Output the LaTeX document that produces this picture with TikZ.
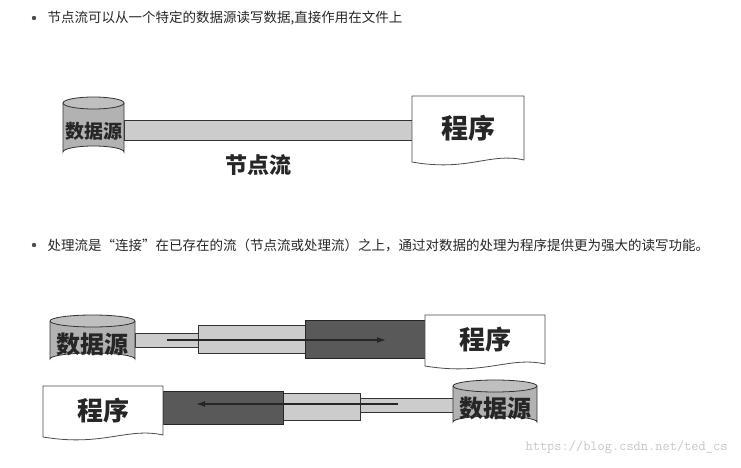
\documentclass[tikz,border=0pt]{standalone}
\usepackage{fontspec}
\usetikzlibrary{arrows.meta}
\newfontfamily\cjk{Noto Sans CJK SC}
\begin{document}
\begin{tikzpicture}[x=1pt,y=-1pt,
  lite/.style={fill=gray!40,draw=black!80,line width=0.8pt},
  dark/.style={fill=black!65,draw=black!85,line width=0.8pt},
  btxt/.style={font=\cjk\bfseries\fontsize{#1}{#1}\selectfont,text=black!85,inner sep=0pt},
  para/.style={font=\cjk\fontsize{13.5}{14}\selectfont,text=black!85,anchor=west},
  arr/.style={-{Latex[length=9pt,width=6pt]},line width=1.3pt,black!85}]
\useasboundingbox (0,0) rectangle (741,468);
\def\cyl#1#2#3#4#5#6{% name, x1,x2,ytop,ybot,size
  \path[fill=gray!60,draw=black!80,line width=0.8pt]
    (#2,#4) -- (#2,#5) arc[start angle=180,end angle=360,x radius={(#3-#2)/2},y radius=6] -- (#3,#4);
  \path[fill=gray!50,draw=black!80,line width=0.8pt] ({(#2+#3)/2},#4) ellipse [x radius={(#3-#2)/2},y radius=6];
  \node[btxt=#6] (#1) at ({(#2+#3)/2},{(#4+#5)/2+4}) {数据源};}
\def\doc#1#2#3#4#5#6{%
  \path[fill=white,draw=black!70,line width=0.8pt]
    (#2,#4) -- (#3,#4) -- (#3,{#5-6}) .. controls ({#3-(#3-#2)*0.3},{#5-14}) and ({#2+(#3-#2)*0.5},{#5+6}) .. (#2,{#5-4}) -- cycle;
  \node[btxt=#6] (#1) at ({(#2+#3)/2},{(#4+#5)/2-3}) {程序};}

\fill[black!70] (34,18) circle (2.2);
\node[para] (t1) at (44,18) {节点流可以从一个特定的数据源读写数据,直接作用在文件上};
\fill[black!70] (34,245) circle (2.2);
\node[para] (t2) at (44,245) {处理流是“连接”在已存在的流（节点流或处理流）之上，通过对数据的处理为程序提供更为强大的读写功能。};

% top
\draw[lite] (124,120) rectangle (412,140);
\cyl{ds1}{63}{124}{103}{152}{19}
\doc{p1}{412}{524}{96}{166}{27}
\node[btxt=22] (nl) at (258,165) {节点流};

% middle
\draw[lite] (135,333) rectangle (198,347);
\draw[lite] (198,325) rectangle (305,353);
\draw[dark] (305,320) rectangle (425,358);
\cyl{ds2}{50}{135}{321}{359}{24}
\doc{p2}{425}{545}{315}{370}{26}
\coordinate (a1) at (167,340); \coordinate (a2) at (386,340);
\draw[arr] (a1) -- (a2);

% bottom
\draw[lite] (360,398) rectangle (455,412);
\draw[lite] (283,393) rectangle (360,420);
\draw[dark] (163,391) rectangle (283,424);
\cyl{ds3}{453}{537}{386}{422}{24}
\doc{p3}{43}{163}{386}{441}{26}
\coordinate (b1) at (398,404); \coordinate (b2) at (196,404);
\draw[arr] (b1) -- (b2);

\node[font=\ttfamily\fontsize{14}{14}\selectfont,text=gray!45,anchor=east] (wm) at (731,447) {https://blog.csdn.net/ted\_cs};
\end{tikzpicture}
\end{document}
